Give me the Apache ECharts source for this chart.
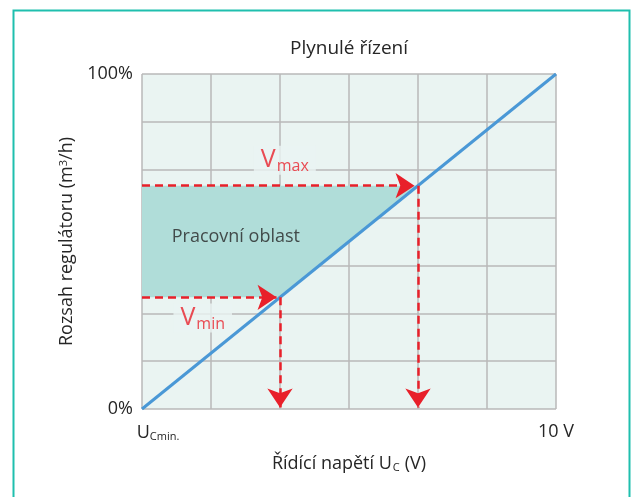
<!DOCTYPE html>
<html lang="cs">
<head>
<meta charset="UTF-8">
<title>Plynulé řízení</title>
<style>
  html, body { margin: 0; padding: 0; background: #fff; }
  #main { width: 633px; height: 497px; }
</style>
</head>
<body>
<div id="main"></div>
<script src="https://cdn.jsdelivr.net/npm/echarts@6/dist/echarts.min.js"></script>
<script>
  // osa x: 6 dílků od U_Cmin do 10 V, osa y: 7 dílků od 0 % do 100 %
  var xTicks = ['Ucmin', '', '', '', '', '', '10 V'];
  var yTicks = ['0%', '', '', '', '', '', '', '100%'];
  var regLine = [[0, 0], [6, 7]];
  var vMin = [2, 7 / 3];
  var vMax = [4, 14 / 3];
  var workArea = [[0, 14 / 3], [4, 14 / 3], [2, 7 / 3], [0, 7 / 3]];
  var textMarks = [
    { name: 'Pracovní oblast', value: [1.36, 3.6] }
  ];
  var vLabels = [
    { name: 'max', value: [2.07, 5.2] },
    { name: 'min', value: [0.88, 1.9] }
  ];

  var red = '#e8202a';
  var ink = '#262626';
  var font = 'Open Sans';
  var plotBg = '#eaf4f2';

  var chart = echarts.init(document.getElementById('main'));
  var option = {
    backgroundColor: '#fff',
    textStyle: { fontFamily: font },
    title: {
      text: 'Plynulé řízení',
      left: 344, top: 34, textAlign: 'center',
      textStyle: { fontSize: 19, fontWeight: 'normal', color: ink, fontFamily: font }
    },
    graphic: [{
      type: 'rect', left: 11, top: 8, z: -10,
      shape: { width: 616, height: 600 },
      style: { fill: 'none', stroke: '#1fbfae', lineWidth: 2 }
    }],
    grid: {
      left: 142, right: 77, top: 74, bottom: 88,
      show: true, backgroundColor: plotBg, borderWidth: 0
    },
    xAxis: {
      type: 'value', min: 0, max: 6, interval: 1,
      name: '{t|Řídící napětí U}{s|C}{t|(V)}',
      nameLocation: 'middle', nameGap: 45,
      nameTextStyle: {
        rich: {
          t: { fontSize: 18, color: ink, fontFamily: font },
          s: { fontSize: 11, color: ink, fontFamily: font, verticalAlign: 'bottom', padding: [8, 5, 0, 1] }
        }
      },
      axisLine: { show: false }, axisTick: { show: false },
      splitLine: { show: true, lineStyle: { color: '#b9b9b9', width: 1.5 } },
      axisLabel: {
        margin: 14,
        formatter: function (v) {
          var t = xTicks[v];
          if (t === 'Ucmin') return '{pad|}{t|U}{s|Cmin.}';
          return t ? '{t|' + t + '}' : '';
        },
        rich: {
          pad: { width: 32 },
          t: { fontSize: 18, color: ink, fontFamily: font },
          s: { fontSize: 11, color: ink, fontFamily: font, verticalAlign: 'bottom', padding: [8, 0, 0, 0] }
        }
      }
    },
    yAxis: {
      type: 'value', min: 0, max: 7, interval: 1,
      name: '{t|Rozsah regulátoru (m}{s|3}{t|/h)}',
      nameLocation: 'middle', nameGap: 63, nameRotate: 90,
      nameTextStyle: {
        rich: {
          t: { fontSize: 18, color: ink, fontFamily: font },
          s: { fontSize: 11, color: ink, fontFamily: font, verticalAlign: 'top', padding: [0, 0, 7, 0] }
        }
      },
      axisLine: { show: false }, axisTick: { show: false },
      splitLine: { show: true, lineStyle: { color: '#b9b9b9', width: 1.5 } },
      axisLabel: {
        margin: 9, fontSize: 18, color: ink,
        formatter: function (v) { return yTicks[v] || ''; }
      }
    },
    series: [
      {
        type: 'custom', z: 2,
        data: [0],
        renderItem: function (params, api) {
          var pts = workArea.map(function (p) { return api.coord(p); });
          return { type: 'polygon', shape: { points: pts }, style: { fill: '#b0ddd9' } };
        }
      },
      {
        type: 'line', z: 3, data: regLine, symbol: 'none',
        lineStyle: { color: '#4a98d6', width: 3 }
      },
      {
        type: 'lines', coordinateSystem: 'cartesian2d', z: 4,
        symbol: ['none', 'arrow'], symbolSize: [15, 19],
        lineStyle: { color: red, width: 2.5, type: [8, 5], opacity: 1 },
        data: [
          { coords: [[0, vMin[1]], [vMin[0] - 0.05, vMin[1]]] },
          { coords: [[vMin[0], vMin[1]], [vMin[0], 0.03]] },
          { coords: [[0, vMax[1]], [vMax[0] - 0.05, vMax[1]]] },
          { coords: [[vMax[0], vMax[1]], [vMax[0], 0.03]] }
        ]
      },
      {
        type: 'scatter', z: 5, symbolSize: 0, data: textMarks,
        label: {
          show: true, position: 'inside', formatter: '{b}',
          fontSize: 18, color: ink, fontFamily: font
        }
      },
      {
        type: 'scatter', z: 5, symbolSize: 0, data: vLabels,
        label: {
          show: true, position: 'inside',
          formatter: '{v|V}{s|{b}}',
          backgroundColor: plotBg, padding: [0, 7, 0, 7],
          rich: {
            v: { fontSize: 25, color: red, fontFamily: font },
            s: { fontSize: 16, color: red, fontFamily: font, verticalAlign: 'bottom', padding: [13, 0, 0, 1] }
          }
        }
      }
    ]
  };
  chart.setOption(option);
</script>
</body>
</html>
